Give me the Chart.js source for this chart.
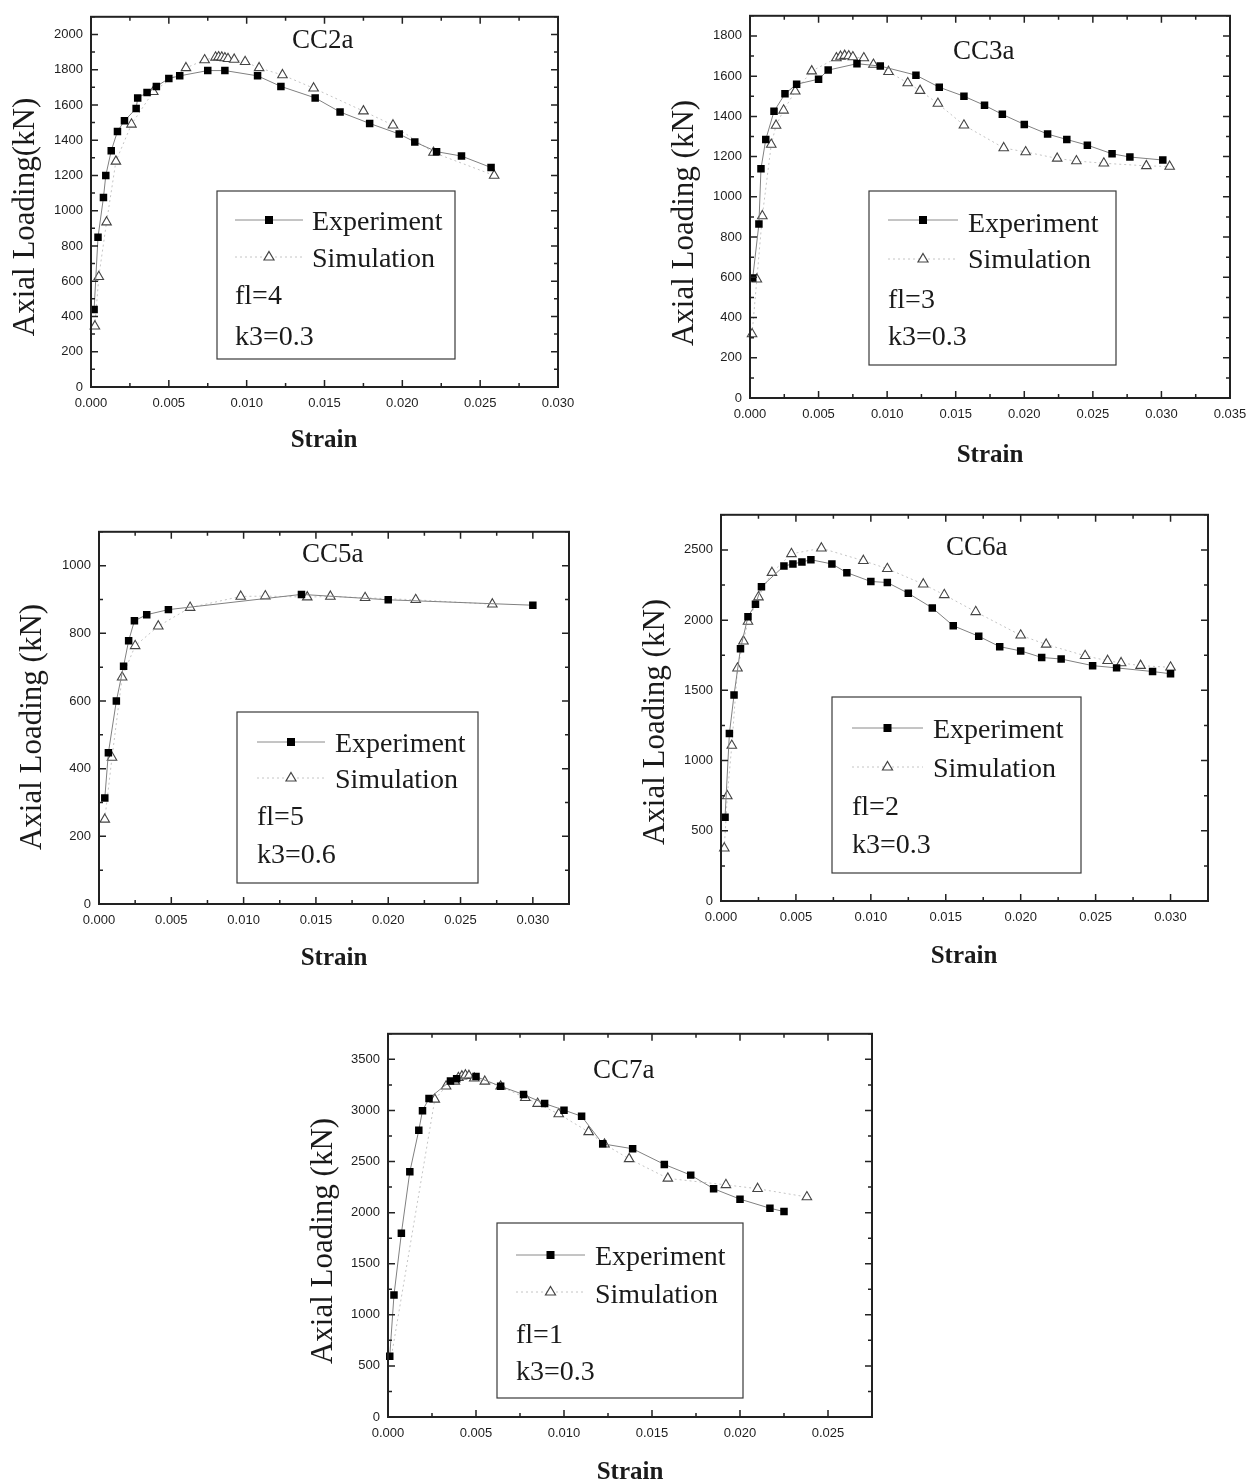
<!DOCTYPE html>
<html>
<head>
<meta charset="utf-8">
<title>Axial loading vs strain, CC2a to CC7a</title>
<script src="https://cdn.jsdelivr.net/npm/chart.js@4.4.1/dist/chart.umd.min.js"></script>
<style>
  html, body { margin: 0; padding: 0; background: #fff; }
  body { width: 1260px; height: 1483px; position: relative; overflow: hidden; }
  canvas { position: absolute; }
</style>
</head>
<body>
<canvas id="cc2a"></canvas>
<canvas id="cc3a"></canvas>
<canvas id="cc5a"></canvas>
<canvas id="cc6a"></canvas>
<canvas id="cc7a"></canvas>
<script>
// values: strain (-) and axial load (kN)
const seriesNames = ["Experiment", "Simulation"];

const strainTicks30 = [0, 0.005, 0.010, 0.015, 0.020, 0.025, 0.030];
const strainTicks35 = [0, 0.005, 0.010, 0.015, 0.020, 0.025, 0.030, 0.035];
const strainTicks25 = [0, 0.005, 0.010, 0.015, 0.020, 0.025];

const cc2aLoadTicks = [0, 200, 400, 600, 800, 1000, 1200, 1400, 1600, 1800, 2000];
const cc2aExpStrain = [0.0002, 0.00045, 0.0008, 0.00095, 0.0013, 0.0017, 0.00215, 0.0029, 0.0030, 0.0036, 0.0042, 0.0050, 0.0057, 0.0075, 0.0086, 0.0107, 0.0122, 0.0144, 0.0160, 0.0179, 0.0198, 0.0208, 0.0222, 0.0238, 0.0257];
const cc2aExpLoad   = [440, 850, 1075, 1200, 1340, 1450, 1510, 1580, 1640, 1670, 1705, 1750, 1765, 1795, 1795, 1765, 1705, 1640, 1560, 1495, 1435, 1390, 1335, 1310, 1245];
const cc2aSimStrain = [0.00025, 0.0005, 0.001, 0.0016, 0.0026, 0.004, 0.0061, 0.0073, 0.0080, 0.0082, 0.0084, 0.0086, 0.0088, 0.0092, 0.0099, 0.0108, 0.0123, 0.0143, 0.0175, 0.0194, 0.0220, 0.0259];
const cc2aSimLoad   = [345, 625, 935, 1280, 1490, 1675, 1810, 1855, 1870, 1872, 1870, 1866, 1862, 1858, 1845, 1810, 1770, 1695, 1565, 1485, 1330, 1200];

const cc3aLoadTicks = [0, 200, 400, 600, 800, 1000, 1200, 1400, 1600, 1800];
const cc3aExpStrain = [0.0002, 0.00065, 0.0008, 0.00115, 0.00175, 0.00255, 0.0034, 0.0050, 0.0057, 0.0078, 0.0095, 0.0121, 0.0138, 0.0156, 0.0171, 0.0184, 0.0200, 0.0217, 0.0231, 0.0246, 0.0264, 0.0277, 0.0301];
const cc3aExpLoad   = [597, 865, 1140, 1285, 1425, 1512, 1560, 1585, 1630, 1662, 1650, 1605, 1545, 1500, 1455, 1410, 1360, 1312, 1285, 1257, 1214, 1198, 1183];
const cc3aSimStrain = [0.00015, 0.0005, 0.0009, 0.00155, 0.0019, 0.00245, 0.0033, 0.0045, 0.0063, 0.0066, 0.0069, 0.0072, 0.0075, 0.0083, 0.0090, 0.0101, 0.0115, 0.0124, 0.0137, 0.0156, 0.0185, 0.0201, 0.0224, 0.0238, 0.0258, 0.0289, 0.0306];
const cc3aSimLoad   = [318, 590, 905, 1260, 1355, 1430, 1525, 1625, 1690, 1698, 1702, 1700, 1695, 1690, 1658, 1622, 1566, 1528, 1464, 1356, 1243, 1223, 1191, 1178, 1167, 1154, 1151];

const cc5aLoadTicks = [0, 200, 400, 600, 800, 1000];
const cc5aExpStrain = [0.0004, 0.00065, 0.0012, 0.0017, 0.00205, 0.00245, 0.0033, 0.0048, 0.0140, 0.0200, 0.0300];
const cc5aExpLoad   = [313, 447, 600, 703, 778, 837, 855, 870, 915, 899, 883];
const cc5aSimStrain = [0.0004, 0.0009, 0.0016, 0.0025, 0.0041, 0.0063, 0.0098, 0.0115, 0.0144, 0.0160, 0.0184, 0.0219, 0.0272];
const cc5aSimLoad   = [250, 433, 670, 763, 821, 876, 909, 910, 907, 909, 905, 899, 886];

const cc6aLoadTicks = [0, 500, 1000, 1500, 2000, 2500];
const cc6aExpStrain = [0.00027, 0.00056, 0.00087, 0.0013, 0.0018, 0.0023, 0.0027, 0.0042, 0.0048, 0.0054, 0.0060, 0.0074, 0.0084, 0.0100, 0.0111, 0.0125, 0.0141, 0.0155, 0.0172, 0.0186, 0.0200, 0.0214, 0.0227, 0.0248, 0.0264, 0.0288, 0.0300];
const cc6aExpLoad   = [597, 1193, 1467, 1797, 2024, 2113, 2238, 2385, 2400, 2414, 2430, 2400, 2338, 2275, 2268, 2191, 2087, 1960, 1885, 1811, 1781, 1734, 1723, 1676, 1660, 1634, 1618];
const cc6aSimStrain = [0.00022, 0.00042, 0.00072, 0.0011, 0.0015, 0.0018, 0.0025, 0.0034, 0.0047, 0.0067, 0.0095, 0.0111, 0.0135, 0.0149, 0.0170, 0.0200, 0.0217, 0.0243, 0.0258, 0.0267, 0.0280, 0.0300];
const cc6aSimLoad   = [376, 748, 1107, 1657, 1850, 1990, 2164, 2338, 2472, 2512, 2423, 2366, 2256, 2180, 2059, 1892, 1827, 1746, 1711, 1695, 1676, 1664];

const cc7aLoadTicks = [0, 500, 1000, 1500, 2000, 2500, 3000, 3500];
const cc7aExpStrain = [0.0001, 0.00034, 0.00076, 0.00124, 0.00175, 0.00196, 0.00233, 0.00355, 0.0039, 0.0050, 0.0064, 0.0077, 0.0089, 0.0100, 0.0110, 0.0122, 0.0139, 0.0157, 0.0172, 0.0185, 0.0200, 0.0217, 0.0225];
const cc7aExpLoad   = [595, 1193, 1797, 2399, 2806, 2997, 3118, 3289, 3309, 3331, 3236, 3156, 3067, 3003, 2943, 2673, 2625, 2472, 2367, 2234, 2132, 2043, 2010];
const cc7aSimStrain = [0.0002, 0.00266, 0.0033, 0.0038, 0.0040, 0.0042, 0.0044, 0.0046, 0.0049, 0.0055, 0.0064, 0.0078, 0.0085, 0.0097, 0.0114, 0.0123, 0.0137, 0.0159, 0.0192, 0.0210, 0.0238];
const cc7aSimLoad   = [600, 3108, 3236, 3284, 3320, 3335, 3345, 3340, 3315, 3284, 3236, 3124, 3067, 2965, 2790, 2669, 2526, 2335, 2272, 2234, 2153];

// layout of each panel, in page pixels
const panels = [
	{ id: "cc2a", name: "CC2a", fl: "fl=4", k3: "k3=0.3", yTitle: "Axial Loading(kN)",
		exp: [cc2aExpStrain, cc2aExpLoad], sim: [cc2aSimStrain, cc2aSimLoad], simBare: 0,
		xTicks: strainTicks30, yTicks: cc2aLoadTicks, xMax: 0.030, yMax: 2100,
		box: [91, 7, 558, 387], title: [292, 48], yT: [26, 217], xT: [324, 447],
		legend: [217, 191, 455, 359], lineX: [235, 303], textX: 312, lineY: [220, 257], base: [230, 267, 304, 345] },
	{ id: "cc3a", name: "CC3a", fl: "fl=3", k3: "k3=0.3", yTitle: "Axial Loading (kN)",
		exp: [cc3aExpStrain, cc3aExpLoad], sim: [cc3aSimStrain, cc3aSimLoad], simBare: 0,
		xTicks: strainTicks35, yTicks: cc3aLoadTicks, xMax: 0.035, yMax: 1900,
		box: [750, 6, 1230, 398], title: [953, 59], yT: [685, 223], xT: [990, 462],
		legend: [869, 191, 1116, 365], lineX: [888, 958], textX: 968, lineY: [220, 259], base: [232, 268, 308, 345] },
	{ id: "cc5a", name: "CC5a", fl: "fl=5", k3: "k3=0.6", yTitle: "Axial Loading (kN)",
		exp: [cc5aExpStrain, cc5aExpLoad], sim: [cc5aSimStrain, cc5aSimLoad], simBare: 0,
		xTicks: strainTicks30, yTicks: cc5aLoadTicks, xMax: 0.0325, yMax: 1100,
		box: [99, 522, 569, 904], title: [302, 562], yT: [33, 727], xT: [334, 965],
		legend: [237, 712, 478, 883], lineX: [257, 325], textX: 335, lineY: [742, 778], base: [752, 788, 825, 863] },
	{ id: "cc6a", name: "CC6a", fl: "fl=2", k3: "k3=0.3", yTitle: "Axial Loading (kN)",
		exp: [cc6aExpStrain, cc6aExpLoad], sim: [cc6aSimStrain, cc6aSimLoad], simBare: 0,
		xTicks: strainTicks30, yTicks: cc6aLoadTicks, xMax: 0.0325, yMax: 2750,
		box: [721, 505, 1208, 901], title: [946, 555], yT: [656, 722], xT: [964, 963],
		legend: [832, 697, 1081, 873], lineX: [852, 923], textX: 933, lineY: [728, 767], base: [738, 777, 815, 853] },
	{ id: "cc7a", name: "CC7a", fl: "fl=1", k3: "k3=0.3", yTitle: "Axial Loading (kN)",
		exp: [cc7aExpStrain, cc7aExpLoad], sim: [cc7aSimStrain, cc7aSimLoad], simBare: 1,
		xTicks: strainTicks25, yTicks: cc7aLoadTicks, xMax: 0.0275, yMax: 3750,
		box: [388, 1024, 872, 1417], title: [593, 1078], yT: [324, 1241], xT: [630, 1479],
		legend: [497, 1223, 743, 1398], lineX: [516, 585], textX: 595, lineY: [1255, 1292], base: [1265, 1303, 1343, 1380] }
];

const SERIF = "'Liberation Serif', 'Times New Roman', serif";
const SANS = "'Liberation Sans', Arial, sans-serif";
const INK = "#1a1a1a";
const Y_W = 90, X_H = 66, PAD_TOP = 6, PAD_RIGHT = 30;

function zip(xs, ys) {
	return xs.map((x, i) => ({ x: x, y: ys[i] }));
}

function drawSquare(ctx, x, y) {
	ctx.fillStyle = "#000";
	ctx.fillRect(x - 4, y - 4, 8, 8);
}

function drawTriangle(ctx, x, y) {
	ctx.beginPath();
	ctx.moveTo(x, y - 5.5);
	ctx.lineTo(x + 5, y + 3);
	ctx.lineTo(x - 5, y + 3);
	ctx.closePath();
	ctx.fillStyle = "#fff";
	ctx.fill();
	ctx.strokeStyle = "#444";
	ctx.lineWidth = 1.2;
	ctx.stroke();
}

// minor ticks sit halfway between the labelled ones, up to the axis end
function tickPositions(majors, max) {
	const half = (majors[1] - majors[0]) / 2;
	const out = [];
	for (let i = 0; i * half <= max + half * 1e-6; i++) {
		out.push({ value: i * half, major: i % 2 === 0 });
	}
	return out;
}

// frame, inward ticks, legend box and the texts of one panel
const panelDeco = {
	id: "panelDeco",
	afterDatasetsDraw(chart, args, o) {
		const ctx = chart.ctx;
		const area = chart.chartArea;
		const xs = chart.scales.x, ys = chart.scales.y;
		const ox = o.offset[0], oy = o.offset[1];
		const px = v => v - ox, py = v => v - oy;

		ctx.save();

		// legend box
		const lg = o.p.legend;
		ctx.fillStyle = "#fff";
		ctx.fillRect(px(lg[0]), py(lg[1]), lg[2] - lg[0], lg[3] - lg[1]);
		ctx.strokeStyle = "#3a3a3a";
		ctx.lineWidth = 1.2;
		ctx.strokeRect(px(lg[0]), py(lg[1]), lg[2] - lg[0], lg[3] - lg[1]);

		const x1 = px(o.p.lineX[0]), x2 = px(o.p.lineX[1]), xm = (x1 + x2) / 2;
		ctx.lineWidth = 1;
		ctx.strokeStyle = "#8a8a8a";
		ctx.beginPath();
		ctx.moveTo(x1, py(o.p.lineY[0]));
		ctx.lineTo(x2, py(o.p.lineY[0]));
		ctx.stroke();
		drawSquare(ctx, xm, py(o.p.lineY[0]));

		ctx.strokeStyle = "#c4c4c4";
		ctx.setLineDash([2, 3]);
		ctx.beginPath();
		ctx.moveTo(x1, py(o.p.lineY[1]));
		ctx.lineTo(x2, py(o.p.lineY[1]));
		ctx.stroke();
		ctx.setLineDash([]);
		drawTriangle(ctx, xm, py(o.p.lineY[1]));

		ctx.fillStyle = INK;
		ctx.font = "28px " + SERIF;
		ctx.textAlign = "left";
		ctx.textBaseline = "alphabetic";
		ctx.fillText(seriesNames[0], px(o.p.textX), py(o.p.base[0]));
		ctx.fillText(seriesNames[1], px(o.p.textX), py(o.p.base[1]));
		ctx.fillText(o.p.fl, x1, py(o.p.base[2]));
		ctx.fillText(o.p.k3, x1, py(o.p.base[3]));

		// panel name
		ctx.font = "27px " + SERIF;
		ctx.fillText(o.p.name, px(o.p.title[0]), py(o.p.title[1]));

		// frame
		ctx.strokeStyle = "#222";
		ctx.lineWidth = 2;
		ctx.strokeRect(area.left, area.top, area.right - area.left, area.bottom - area.top);

		// inward ticks on all four sides
		ctx.lineWidth = 1.5;
		ctx.beginPath();
		tickPositions(o.p.xTicks, xs.max).forEach(t => {
			const x = xs.getPixelForValue(t.value);
			const len = t.major ? 7 : 4;
			ctx.moveTo(x, area.bottom);
			ctx.lineTo(x, area.bottom - len);
			ctx.moveTo(x, area.top);
			ctx.lineTo(x, area.top + len);
		});
		tickPositions(o.p.yTicks, ys.max).forEach(t => {
			const y = ys.getPixelForValue(t.value);
			const len = t.major ? 7 : 4;
			ctx.moveTo(area.left, y);
			ctx.lineTo(area.left + len, y);
			ctx.moveTo(area.right, y);
			ctx.lineTo(area.right - len, y);
		});
		ctx.stroke();

		// axis titles
		ctx.fillStyle = INK;
		ctx.font = "bold 25px " + SERIF;
		ctx.textAlign = "center";
		ctx.fillText("Strain", px(o.p.xT[0]), py(o.p.xT[1]));

		ctx.translate(px(o.p.yT[0]), py(o.p.yT[1]));
		ctx.rotate(-Math.PI / 2);
		ctx.font = "31px " + SERIF;
		ctx.textBaseline = "middle";
		ctx.fillText(o.p.yTitle, 0, 0);

		ctx.restore();
	}
};

function makeChart(p) {
	const [L, T, R, B] = p.box;
	const cv = document.getElementById(p.id);
	const left = L - Y_W, top = T - PAD_TOP;
	cv.width = R - L + Y_W + PAD_RIGHT;
	cv.height = B - T + PAD_TOP + X_H;
	cv.style.left = left + "px";
	cv.style.top = top + "px";

	const tickFont = { family: SANS, size: 13 };

	return new Chart(cv, {
		type: "scatter",
		data: {
			datasets: [{
				label: seriesNames[0],
				data: zip(p.exp[0], p.exp[1]),
				showLine: true,
				borderColor: "#808080",
				borderWidth: 1,
				pointStyle: "rect",
				pointRadius: 5.3,
				pointBackgroundColor: "#000",
				pointBorderColor: "#000",
				pointBorderWidth: 0,
				clip: 8
			}, {
				label: seriesNames[1],
				data: zip(p.sim[0], p.sim[1]),
				showLine: true,
				borderColor: "#c4c4c4",
				borderWidth: 1,
				borderDash: [2, 3],
				pointStyle: "triangle",
				pointRadius: p.sim[1].map((v, i) => i < p.simBare ? 0 : 5.5),
				pointBackgroundColor: "#fff",
				pointBorderColor: "#444",
				pointBorderWidth: 1.1,
				clip: 8
			}]
		},
		options: {
			responsive: false,
			animation: false,
			devicePixelRatio: 1,
			events: [],
			layout: { padding: { left: 0, top: PAD_TOP, right: PAD_RIGHT, bottom: 0 } },
			plugins: {
				legend: { display: false },
				tooltip: { enabled: false },
				panelDeco: { p: p, offset: [left, top] }
			},
			scales: {
				x: {
					type: "linear",
					min: 0,
					max: p.xMax,
					afterBuildTicks: s => { s.ticks = p.xTicks.map(v => ({ value: v })); },
					afterFit: s => { s.height = X_H; },
					grid: { display: true, drawOnChartArea: false, drawTicks: false },
					border: { display: false },
					ticks: {
						autoSkip: false,
						maxRotation: 0,
						padding: 9,
						color: "#1e1e1e",
						font: tickFont,
						callback: v => v.toFixed(3)
					}
				},
				y: {
					type: "linear",
					min: 0,
					max: p.yMax,
					afterBuildTicks: s => { s.ticks = p.yTicks.map(v => ({ value: v })); },
					afterFit: s => { s.width = Y_W; },
					grid: { display: true, drawOnChartArea: false, drawTicks: false },
					border: { display: false },
					ticks: {
						autoSkip: false,
						padding: 8,
						color: "#1e1e1e",
						font: tickFont,
						callback: v => String(v)
					}
				}
			}
		},
		plugins: [panelDeco]
	});
}

panels.forEach(makeChart);
</script>
</body>
</html>
